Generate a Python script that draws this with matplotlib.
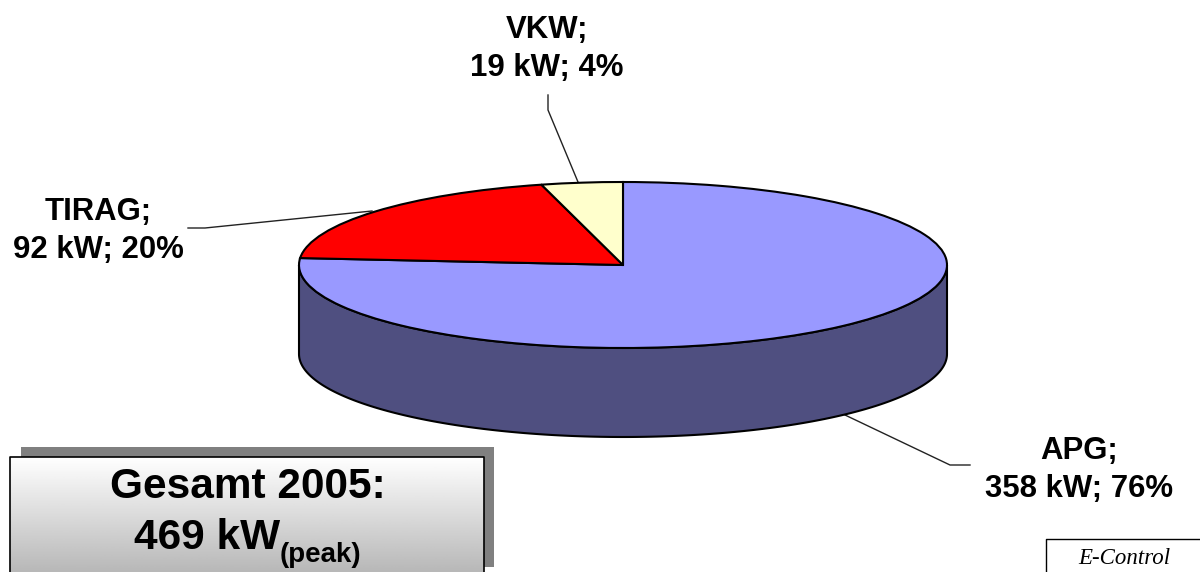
import numpy as np
import matplotlib
matplotlib.use("Agg")
import matplotlib.pyplot as plt

# Datos
nombres = ["APG", "TIRAG", "VKW"]
kw = [358, 92, 19]
pct = [76, 20, 4]
colores = ["#9999FF", "#FF0000", "#FFFFCC"]

W, H = 1200, 572
plt.rcParams["font.family"] = ["Liberation Sans", "DejaVu Sans"]
fig = plt.figure(figsize=(W / 100, H / 100), dpi=100, facecolor="white")

# Capa de fondo en pixeles
bg = fig.add_axes([0, 0, 1, 1], zorder=1)
bg.set_xlim(0, W)
bg.set_ylim(H, 0)
bg.axis("off")

# Lineas de las etiquetas
bg.plot([548, 548, 578], [95, 110, 182], color="#222222", lw=1)
bg.plot([188, 205, 372], [228, 228, 211], color="#222222", lw=1)
bg.plot([970, 950, 845], [465, 465, 415], color="#222222", lw=1)

# Caja del total, sombra y degradado
bg.fill([21, 494, 494, 21], [447, 447, 567, 567], color="#808080", lw=0)
grad = np.linspace(1.0, 0.72, 200).reshape(-1, 1)
bg.imshow(grad, cmap="gray", vmin=0, vmax=1, extent=(10, 484, 572, 457), aspect="auto", zorder=2)
bg.set_xlim(0, W)
bg.set_ylim(H, 0)
bg.plot([10, 10, 484, 484], [572, 457, 457, 572], color="black", lw=1.2, zorder=3)

# Tarta, aplastada con aspect auto
cx, cy, rx, ry = 623, 265, 324, 83
ax = fig.add_axes([(cx - rx) / W, 1 - (cy + ry) / H, 2 * rx / W, 2 * ry / H], zorder=2)
ax.pie(kw, colors=colores, startangle=90, counterclock=False, radius=1,
       wedgeprops={"edgecolor": "black", "linewidth": 1.5, "zorder": 3})
ax.set_aspect("auto")
ax.set_xlim(-1, 1)
ax.set_ylim(-1, 1)

# Pared lateral
alto = 89 / ry
t = np.linspace(np.pi, 2 * np.pi, 200)
xs = np.concatenate([np.cos(t), np.cos(t[::-1])])
ys = np.concatenate([np.sin(t) - alto, np.sin(t[::-1])])
ax.fill(xs, ys, facecolor="#4F4F80", edgecolor="black", lw=1.5, clip_on=False, zorder=2)

# Textos
top = fig.add_axes([0, 0, 1, 1], zorder=3)
top.set_xlim(0, W)
top.set_ylim(H, 0)
top.axis("off")

pos_etq = [(1079, 470), (98, 231), (547, 49)]
for n, k, p, (x, y) in zip(nombres, kw, pct, pos_etq):
    top.text(x, y, f"{n};\n{k} kW; {p}%", ha="center", va="center", fontsize=22.4,
             fontweight="bold", linespacing=1.36)

top.text(248, 487, "Gesamt 2005:", ha="center", va="center", fontsize=30.5, fontweight="bold")
top.text(134, 538, "469 kW", ha="left", va="center", fontsize=30.5, fontweight="bold")
top.text(280, 555, "(peak)", ha="left", va="center", fontsize=20, fontweight="bold")

# Sello E-Control
top.plot([1046, 1046, W], [H, 539, 539], color="black", lw=1)
top.text(1124, 559, "E-Control", ha="center", va="center", fontsize=16.5,
         family="Liberation Serif", style="italic")

fig.savefig("out.png", dpi=100)
